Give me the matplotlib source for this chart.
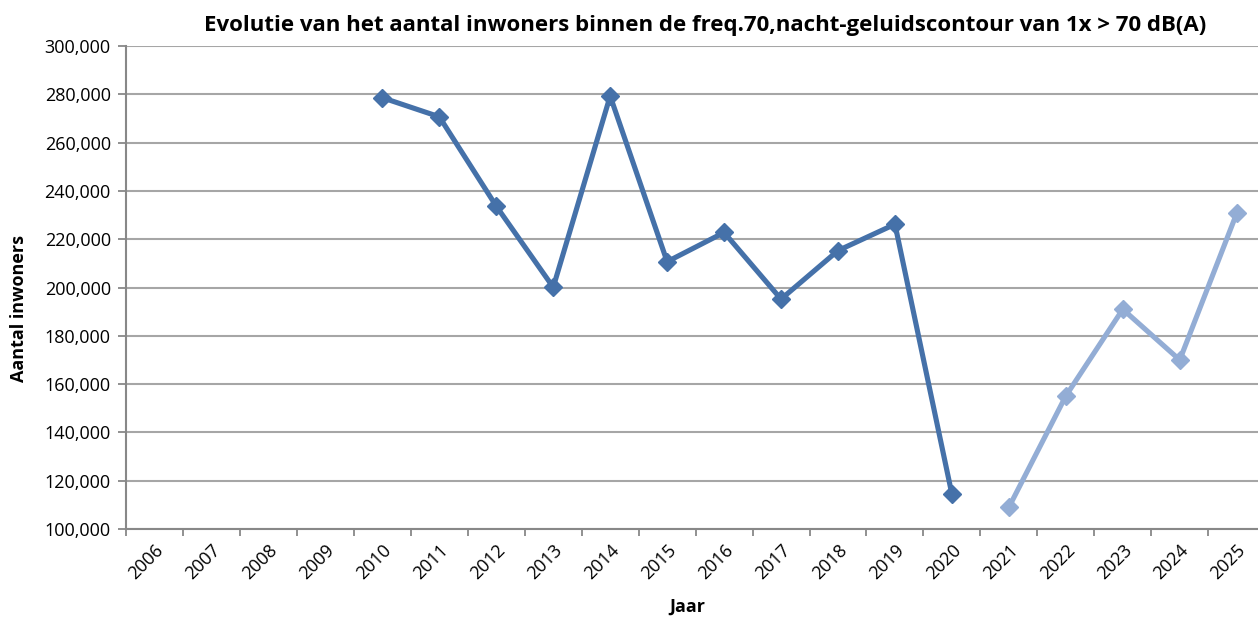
import matplotlib
matplotlib.use("Agg")
import matplotlib.pyplot as plt
from matplotlib.ticker import FuncFormatter, FixedLocator, NullFormatter

plt.rcParams['font.family'] = ['Open Sans', 'DejaVu Sans']

years = list(range(2006, 2026))
years_measured = [2010, 2011, 2012, 2013, 2014, 2015, 2016, 2017, 2018, 2019, 2020]
inwoners_measured = [278600, 270700, 233700, 200100, 279300, 210700, 222800, 195200, 215300, 226200, 114400]
years_forecast = [2021, 2022, 2023, 2024, 2025]
inwoners_forecast = [109000, 155100, 191000, 170000, 230700]

title = "Evolutie van het aantal inwoners binnen de freq.70,nacht-geluidscontour van 1x > 70 dB(A)"
ylabel = "Aantal inwoners"
xlabel = "Jaar"

dark_blue = "#4571A9"
light_blue = "#93ADD5"
grid_gray = "#A6A6A6"

fig = plt.figure(figsize=(12.58, 6.17), dpi=100)
# plot area runs a little past the right edge of the canvas
ax = fig.add_axes([0.1002, 0.1426, 0.9055, 0.7828])

def xpos(y):
    return years.index(y)

ax.plot([xpos(y) for y in years_measured], inwoners_measured, color=dark_blue,
        lw=3.7, marker='D', markersize=9, zorder=3, solid_joinstyle='miter')
ax.plot([xpos(y) for y in years_forecast], inwoners_forecast, color=light_blue,
        lw=3.7, marker='D', markersize=9, zorder=3, solid_joinstyle='miter')

ax.set_xlim(-0.5, len(years) - 0.5)
ax.set_ylim(100000, 300000)
ax.set_yticks(range(100000, 300001, 20000))
ax.yaxis.set_major_formatter(FuncFormatter(lambda v, p: f"{int(v):,}"))

# Category boundaries carry tick marks; labels sit at category centres
ax.xaxis.set_major_locator(FixedLocator([i - 0.5 for i in range(len(years) + 1)]))
ax.xaxis.set_major_formatter(NullFormatter())
ax.xaxis.set_minor_locator(FixedLocator(list(range(len(years)))))
ax.set_xticklabels([str(y) for y in years], minor=True, rotation=45,
                   ha='right', va='top', rotation_mode='anchor', fontsize=13)
ax.tick_params(axis='x', which='minor', length=0, pad=9)
ax.tick_params(axis='x', which='major', length=5, width=1.3, color='#888888', direction='out')
ax.tick_params(axis='y', length=6, width=1.3, color='#888888', direction='out', labelsize=13, pad=5)

ax.grid(axis='y', color=grid_gray, lw=1.5, zorder=0)
ax.set_axisbelow(True)
for side in ('top', 'right'):
    ax.spines[side].set_visible(False)
for side in ('left', 'bottom'):
    ax.spines[side].set_color('#888888')
    ax.spines[side].set_linewidth(1.5)

fig.text(0.5604, 0.959, title, ha='center', va='center', fontsize=16, fontweight='bold')
fig.text(0.015, 0.5, ylabel, ha='center', va='center', rotation=90, fontsize=13, fontweight='bold')
fig.text(0.546, 0.016, xlabel, ha='center', va='center', fontsize=13, fontweight='bold')

fig.savefig("out.png", dpi=100)
